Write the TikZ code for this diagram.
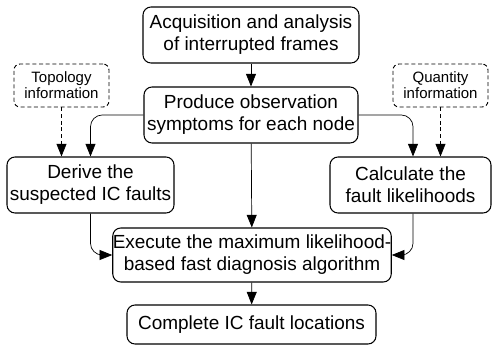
\documentclass[tikz,border=0pt]{standalone}
\usepackage{fontspec}
\setmainfont{Liberation Sans}
\usetikzlibrary{positioning, arrows.meta}

\begin{document}
\begin{tikzpicture}[
        block/.style={
            rectangle,
            draw,
            rounded corners=2.4mm,
            line width=0.9pt,
            inner sep=0pt,
            minimum height=1.68cm,
            align=center,
            font=\fontsize{16.2}{18.8}\selectfont
        },
        infobox/.style={
            rectangle,
            draw,
            dash pattern=on 1.2mm off 0.8mm,
            rounded corners=1.8mm,
            line width=0.8pt,
            inner sep=0pt,
            minimum width=2.85cm,
            minimum height=1.29cm,
            align=center,
            font=\fontsize{12.8}{13.7}\selectfont
        },
        arrow/.style={
            -{Triangle[length=3.8mm, width=3mm]},
            line width=0.6pt,
            rounded corners=3.5mm
        },
        dasharrow/.style={
            arrow,
            dash pattern=on 1.2mm off 0.8mm
        }
    ]

    \useasboundingbox (0, 0) rectangle (14.76, 10.35);

    % main flow
    \node[block, minimum width=6.48cm] (acquire) at (7.53, 9.30) {Acquisition and analysis\\of interrupted frames};
    \node[block, minimum width=6.42cm] (produce) at (7.53, 6.90) {Produce observation\\symptoms for each node};
    \node[block, minimum width=5.01cm] (derive) at (2.715, 4.80) {Derive the\\suspected IC faults};
    \node[block, minimum width=4.83cm] (calc) at (12.315, 4.80) {Calculate the\\fault likelihoods};
    \node[block, minimum width=8.04cm, minimum height=1.62cm] (execute) at (7.56, 2.70) {Execute the maximum likelihood-\\based fast diagnosis algorithm};
    \node[block, minimum width=7.47cm, minimum height=1.17cm] (complete) at (7.545, 0.615) {Complete IC fault locations};

    % side information
    \node[infobox] (topology) at (1.845, 7.785) {Topology\\information};
    \node[infobox] (quantity) at (13.215, 7.785) {Quantity\\information};

    % Arrows
    \draw[arrow] (acquire) -- (produce);
    \draw[arrow] (produce.west) -| (derive.north);
    \draw[arrow] (produce.east) -| ([xshift=0.075cm]calc.north);
    \draw[arrow] (produce) -- (execute);
    \draw[arrow] (derive.south) |- (execute.west);
    \draw[arrow] ([xshift=0.075cm]calc.south) |- (execute.east);
    \draw[arrow] (execute) -- (complete);

    \draw[dasharrow] (topology.south) -- (topology.south |- derive.north);
    \draw[dasharrow] (quantity.south) -- (quantity.south |- calc.north);

\end{tikzpicture}
\end{document}
